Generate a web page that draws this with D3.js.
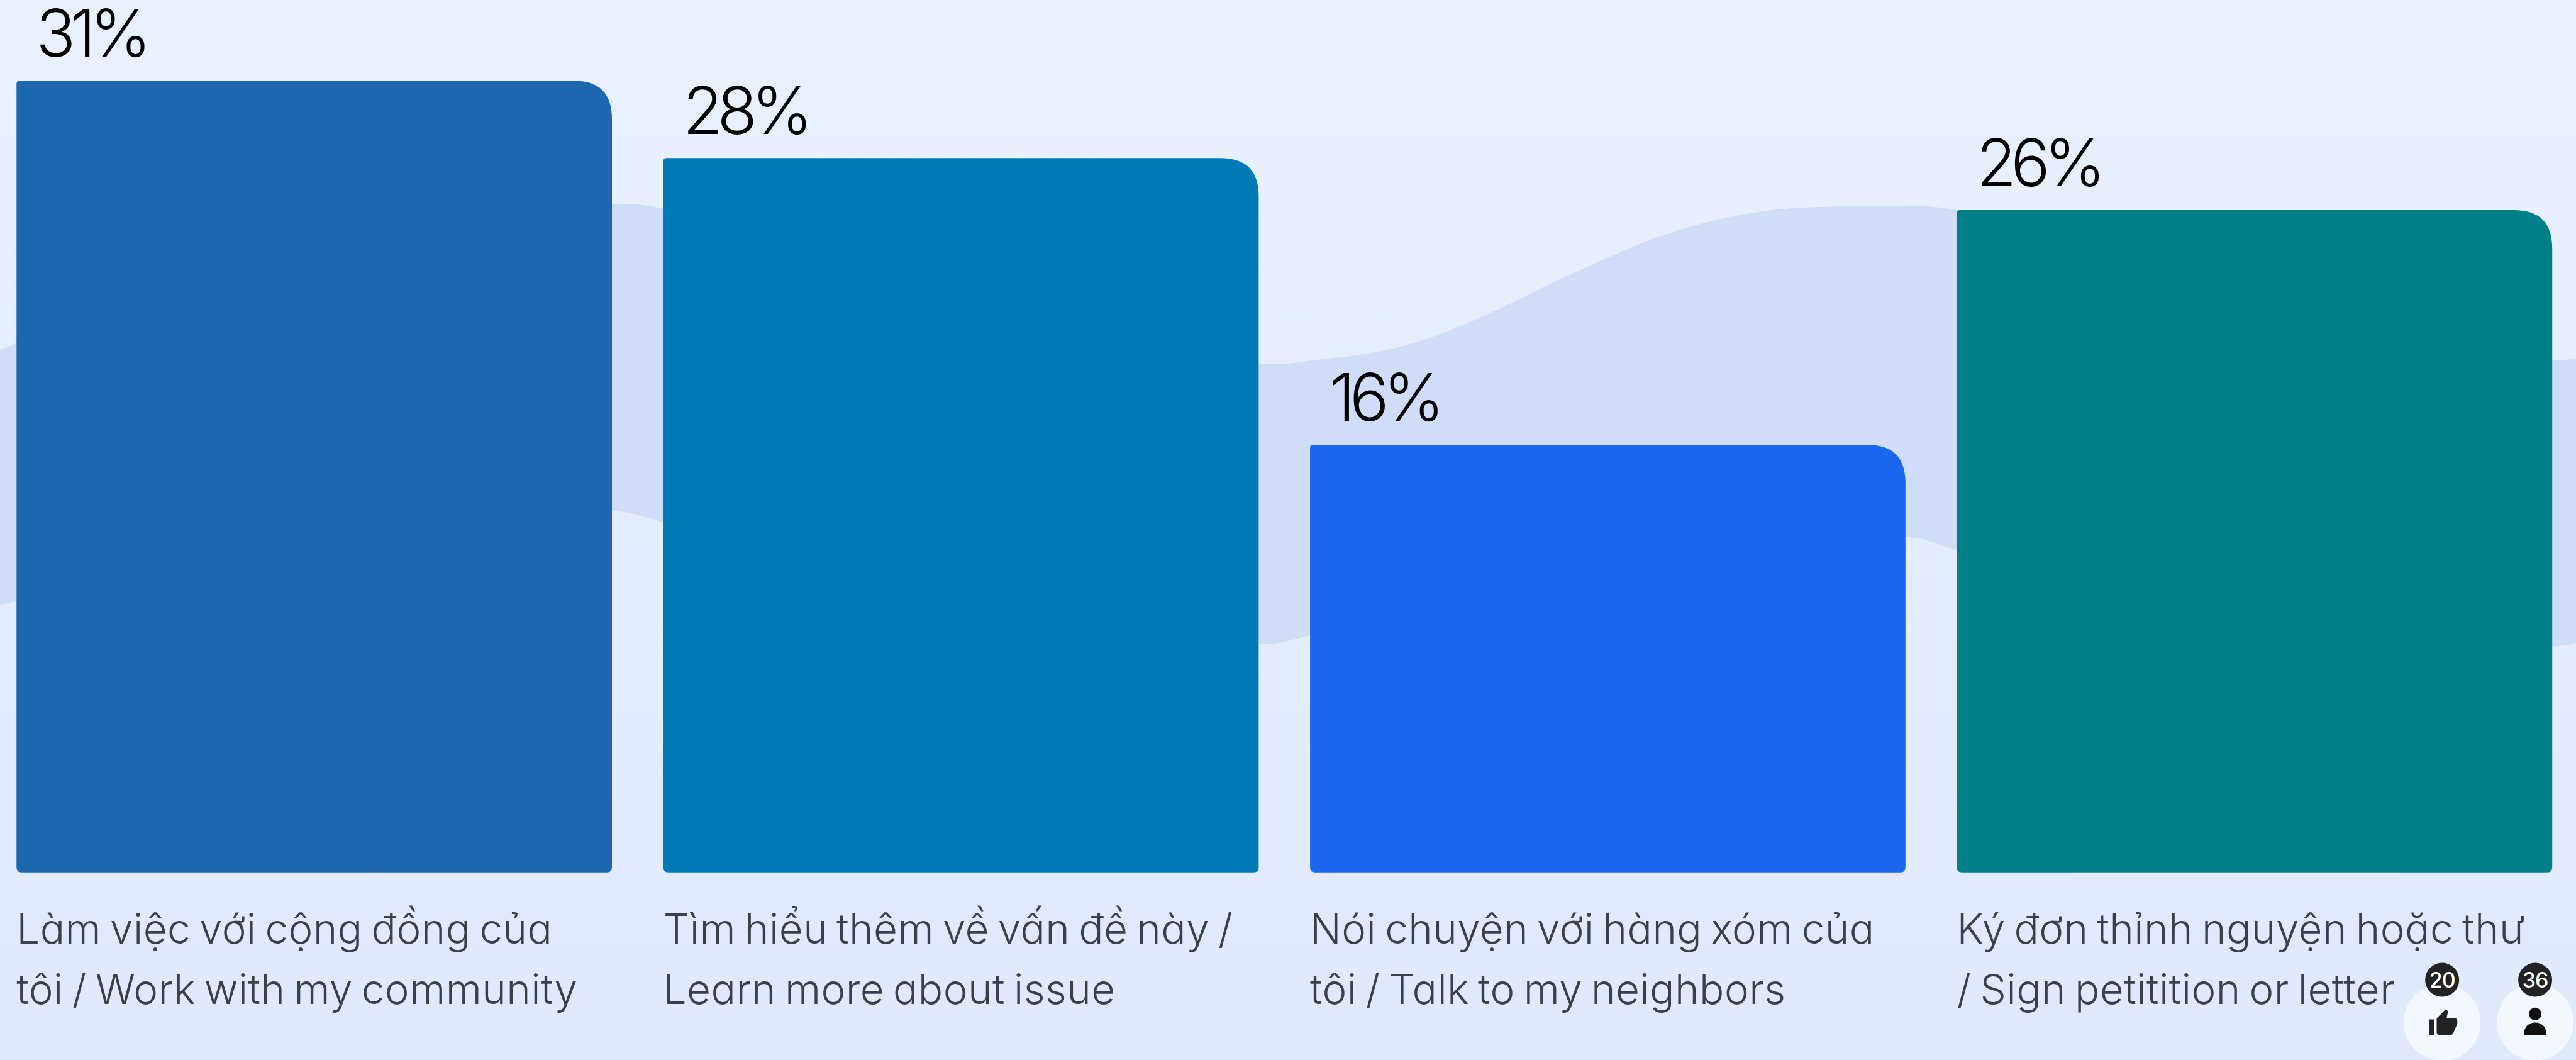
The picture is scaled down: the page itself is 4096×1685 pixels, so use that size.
<!DOCTYPE html>
<html><head><meta charset="utf-8">
<script src="https://cdn.jsdelivr.net/npm/d3@7"></script>
<style>html,body{margin:0;padding:0;overflow:hidden;background:#e4ecfd}svg{display:block}</style>
</head><body><svg id="c"></svg>
<script>
const categories=["Làm việc với cộng đồng của tôi / Work with my community","Tìm hiểu thêm về vấn đề này / Learn more about issue","Nói chuyện với hàng xóm của tôi / Talk to my neighbors","Ký đơn thỉnh nguyện hoặc thư / Sign petitition or letter"];
const labelLine1=["Làm việc với cộng đồng của","Tìm hiểu thêm về vấn đề này /","Nói chuyện với hàng xóm của","Ký đơn thỉnh nguyện hoặc thư"];
const labelLine2=["tôi / Work with my community","Learn more about issue","tôi / Talk to my neighbors","/ Sign petitition or letter"];
const values=[31,27.97,16.74,25.93];
const valueLabels=["31%","28%","16%","26%"];
const barColors=["#1c67ad","#007bb8","#1b66ee","#007f89"];
const waveTopX=[0,300,700,1183,1282,1800,2435,2539,2677,2770,2862,3047,3232,3417,3603,3787,4300,4938,4984];
const waveTopY=[677,560,430,394,403,560,703,697,678,652,615,527,450,408,399,406,560,697,693];
const waveBottomX=[0,400,800,1183,1282,1800,2435,2535,3100,3686,3786,4300,4938,4984];
const waveBottomY=[1170,1085,1020,988,1009,1150,1246,1229,1095,1038,1063,1190,1250,1243];
const badgeCounts=["20","36"];
const W=4096,H=1685;
const svg=d3.select("#c").attr("width",W).attr("height",H).attr("viewBox",[0,0,W,H]);
const defs=svg.append("defs");
const g=defs.append("linearGradient").attr("id","bg").attr("x1",0).attr("y1",0).attr("x2",0).attr("y2",1);
g.append("stop").attr("offset",0).attr("stop-color","#e9f1fe");
g.append("stop").attr("offset",1).attr("stop-color","#e0e9fc");
svg.append("rect").attr("width",W).attr("height",H).attr("fill","url(#bg)");
const px=d3.scaleLinear().domain([0,4984]).range([0,W]);
const py=d3.scaleLinear().domain([0,2050]).range([0,H]);
const topFn=d3.line().x((d,i)=>px(waveTopX[i])).y(d=>py(d)).curve(d3.curveCatmullRom.alpha(0.5))(waveTopY);
const botFn=d3.line().x((d,i)=>px(waveBottomX[waveBottomX.length-1-i])).y(d=>py(d)).curve(d3.curveCatmullRom.alpha(0.5))(waveBottomY.slice().reverse());
svg.append("path").attr("d",topFn+"L"+botFn.slice(1)+"Z").attr("fill","#cfddf9");
const x=d3.scaleBand().domain(categories).range([px(32),px(4938)]).paddingInner(0.0794).paddingOuter(0);
const y=d3.scaleLinear().domain([0,31]).range([py(1687),py(156)]);
function barPath(v,c){
 const l=x(c),r=l+x.bandwidth(),t=y(v),b=y(0),R=62,k=0.32,s=5,e=8;
 return `M${l+s},${t}L${r-R},${t}C${r-R*k},${t} ${r},${t+R*k} ${r},${t+R}L${r},${b-e}Q${r},${b} ${r-e},${b}L${l+e},${b}Q${l},${b} ${l},${b-e}L${l},${t+s}Q${l},${t} ${l+s},${t}Z`;
}
svg.append("g").selectAll("path").data(categories).join("path")
 .attr("d",(c,i)=>barPath(values[i],c)).attr("fill",(c,i)=>barColors[i]);
const FONT="Inter, 'Noto Sans', sans-serif";
svg.append("g").selectAll("text").data(categories).join("text")
 .attr("x",c=>x(c)+31).attr("y",(c,i)=>y(values[i])-38)
 .attr("font-family",FONT).attr("font-size",104).attr("font-weight",350).attr("letter-spacing",-9).attr("fill","#000")
 .text((c,i)=>valueLabels[i]);
const labels=svg.append("g").attr("font-family",FONT).attr("font-size",65.5).attr("font-weight",340).attr("word-spacing",-5).attr("letter-spacing",0.45).attr("fill","#3b3f4a").style("font-feature-settings","'cv11' 1");
labels.selectAll(".l1").data(categories).join("text").attr("class","l1").attr("x",c=>x(c)).attr("y",py(1825)).text((c,i)=>labelLine1[i]);
labels.selectAll(".l2").data(categories).join("text").attr("class","l2").attr("x",c=>x(c)).attr("y",py(1942)).text((c,i)=>labelLine2[i]);
const bubbleX=d3.scaleBand().domain(badgeCounts).range([px(4635),px(4995)]);
const bub=svg.append("g").selectAll("g").data(badgeCounts).join("g")
 .attr("transform",d=>`translate(${bubbleX(d)+bubbleX.bandwidth()/2},0)`);
bub.append("circle").attr("cy",py(1977)).attr("r",61).attr("fill","#fff").attr("fill-opacity",0.62);
bub.append("circle").attr("cy",py(1895)).attr("r",27).attr("fill","#222");
bub.append("text").attr("y",py(1895)+12).attr("text-anchor","middle").attr("fill","#fff").attr("font-family",FONT).attr("font-weight",500).attr("letter-spacing",-1).attr("font-size",34).text(d=>d);
bub.filter((d,i)=>i==0).append("path")
 .attr("transform",`translate(-23,${py(1949)}) scale(2.05)`)
 .attr("fill","#222")
 .attr("d","M1 21h4V9H1v12zm22-11c0-1.1-.9-2-2-2h-6.31l.95-4.57.03-.32c0-.41-.17-.79-.44-1.06L14.17 1 7.59 7.59C7.22 7.95 7 8.45 7 9v10c0 1.1.9 2 2 2h9c.83 0 1.54-.5 1.84-1.22l3.02-7.05c.09-.23.14-.47.14-.73v-2z");
const p=bub.filter((d,i)=>i==1);
p.append("circle").attr("cy",py(1961)).attr("r",10).attr("fill","#111");
p.append("path").attr("transform",`translate(0,${py(2002)})`).attr("fill","#111").attr("d","M-18,0C-18,-14 -10,-20 0,-20C10,-20 18,-14 18,0Z");
</script></body></html>
